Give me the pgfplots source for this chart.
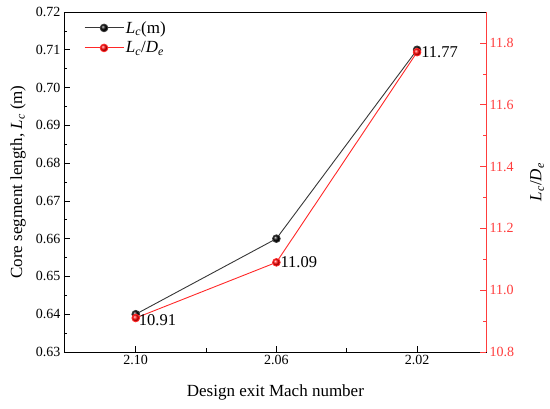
\documentclass[border=0pt]{standalone}
\usepackage{fontspec}
\setmainfont{Liberation Serif}
\usepackage{pgfplots}
\pgfplotsset{compat=1.18}
\definecolor{myred}{RGB}{255,40,40}
\definecolor{axred}{RGB}{255,60,60}
\definecolor{lgray}{RGB}{55,55,55}
\begin{document}
\begin{tikzpicture}
\pgfplotsset{
  every axis/.append style={
    scale only axis, width=422pt, height=340pt,
    xmin=-0.51, xmax=2.49,
    tick label style={font=\fontsize{14}{16}\selectfont},
    /pgf/number format/assume math mode=true,
    major tick length=6pt, minor tick length=3.5pt,
  }
}
\begin{axis}[
  ymin=0.63, ymax=0.72,
  ytick={0.63,0.64,0.65,0.66,0.67,0.68,0.69,0.70,0.71,0.72},
  minor y tick num=1,
  xtick={0,1,2}, xticklabels={2.10,2.06,2.02},
  minor x tick num=1,
  tick align=inside,
  xtick pos=bottom, ytick pos=left,
  yticklabel style={/pgf/number format/.cd, fixed, fixed zerofill, precision=2},
  xlabel={Design exit Mach number},
  ylabel={Core segment length, \textit{L\textsubscript{c}} (m)},
  every axis x label/.style={at={(axis description cs:0.501,-0.118)}, anchor=center, font=\fontsize{17}{20}\selectfont},
  every axis y label/.style={at={(axis description cs:-0.109,0.5)}, rotate=90, anchor=center, font=\fontsize{17}{20}\selectfont},
  axis line style={black, line width=0.8pt},
  tick style={black, line width=0.6pt},
]
\addplot[lgray, line width=0.9pt, mark=ball, mark options={ball color=black}, mark size=3.8pt]
  coordinates {(0,0.64) (1,0.66) (2,0.71)};
\end{axis}
\begin{axis}[
  axis y line*=right, axis x line=none,
  ymin=10.8, ymax=11.9,
  ytick={10.8,11.0,11.2,11.4,11.6,11.8},
  minor y tick num=1,
  tick align=inside,
  axis line style={-},
  y axis line style={axred, line width=0.8pt},
  y tick style={axred, line width=0.6pt},
  yticklabel style={axred, /pgf/number format/.cd, fixed, fixed zerofill, precision=1},
  ylabel={\textit{L\textsubscript{c}}/\textit{D\textsubscript{e}}},
  every axis y label/.style={at={(axis description cs:1.121,0.5)}, rotate=90, anchor=center, font=\fontsize{17}{20}\selectfont},
  legend style={at={(axis description cs:0.04,0.985)}, anchor=north west, draw=none, fill=none,
    font=\fontsize{17}{20}\selectfont, row sep=3pt, cells={anchor=west}},
  legend image code/.code={\draw[mark repeat=2,mark phase=2,#1] plot coordinates {(0pt,0pt) (19.5pt,0pt) (39pt,0pt)};},
]
\addlegendimage{lgray, line width=0.9pt, mark=ball, mark options={ball color=black}, mark size=3.8pt}
\addlegendentry{\textit{L\textsubscript{c}}(m)}
\addplot[myred, line width=0.9pt, mark=ball, mark options={ball color=red}, mark size=3.8pt]
  coordinates {(0,10.91) (1,11.09) (2,11.77)};
\addlegendentry{\textit{L\textsubscript{c}}/\textit{D\textsubscript{e}}}
\node[anchor=west, inner sep=2pt, xshift=1pt, yshift=-2pt, font=\fontsize{16.5}{18}\selectfont, black] at (axis cs:0,10.91) {10.91};
\node[anchor=west, inner sep=2pt, xshift=2pt, font=\fontsize{16.5}{18}\selectfont, black] at (axis cs:1,11.09) {11.09};
\node[anchor=west, inner sep=2pt, xshift=2pt, font=\fontsize{16.5}{18}\selectfont, black] at (axis cs:2,11.77) {11.77};
\end{axis}
\pgfresetboundingbox
\path (-64pt,-57pt) rectangle (486pt,352pt);
\end{tikzpicture}
\end{document}
